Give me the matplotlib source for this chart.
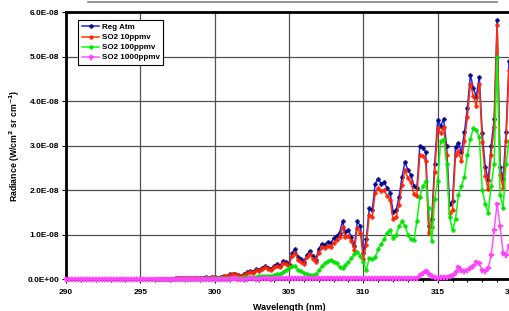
import numpy as np
import matplotlib
matplotlib.use("Agg")
import matplotlib.pyplot as plt
from matplotlib.ticker import FuncFormatter, MultipleLocator
from matplotlib.lines import Line2D

plt.rcParams['font.family'] = ['Liberation Sans', 'DejaVu Sans']

# wavelengths (nm)
wl_main = np.round(np.arange(296.0, 320.01, 0.2), 1)
wl_pink = np.round(np.arange(290.0, 320.01, 0.2), 1)

# radiance in units of 1E-8 W/cm2 sr cm-1
reg_atm = [
    0.00, 0.00, 0.00, 0.00, 0.01, 0.01, 0.01, 0.02, 0.03, 0.04,
    0.02, 0.02, 0.03, 0.02, 0.04, 0.03, 0.04, 0.05, 0.04, 0.06,
    0.05, 0.04, 0.06, 0.08, 0.07, 0.11, 0.12, 0.13, 0.10, 0.08,
    0.12, 0.16, 0.19, 0.17, 0.23, 0.21, 0.26, 0.30, 0.26, 0.24,
    0.30, 0.34, 0.31, 0.42, 0.38, 0.35, 0.58, 0.68, 0.50, 0.45,
    0.40, 0.55, 0.64, 0.52, 0.44, 0.68, 0.80, 0.78, 0.84, 0.82,
    0.92, 0.98, 1.05, 1.30, 1.06, 1.10, 0.95, 0.75, 1.30, 1.20,
    0.60, 0.90, 1.60, 1.55, 2.15, 2.26, 2.15, 2.18, 2.05, 1.95,
    1.52, 1.55, 1.85, 2.30, 2.64, 2.45, 2.35, 2.10, 2.05, 3.00,
    2.95, 2.85, 1.20, 1.35, 2.60, 3.58, 3.45, 3.60, 3.00, 1.70,
    1.75, 2.98, 3.06, 2.85, 3.30, 3.85, 4.59, 4.30, 4.10, 4.55,
    3.28, 2.53, 2.23, 3.00, 3.60, 5.83, 2.53, 2.25, 3.30, 4.90,
    4.60,
]

so2_10 = [
    0.00, 0.00, 0.00, 0.00, 0.01, 0.01, 0.01, 0.02, 0.03, 0.03,
    0.02, 0.02, 0.03, 0.02, 0.03, 0.03, 0.04, 0.04, 0.04, 0.05,
    0.05, 0.04, 0.05, 0.07, 0.07, 0.10, 0.11, 0.12, 0.09, 0.07,
    0.10, 0.14, 0.17, 0.15, 0.20, 0.19, 0.23, 0.27, 0.23, 0.21,
    0.27, 0.30, 0.27, 0.37, 0.34, 0.31, 0.52, 0.60, 0.44, 0.40,
    0.35, 0.49, 0.57, 0.46, 0.39, 0.60, 0.72, 0.70, 0.75, 0.73,
    0.82, 0.88, 0.94, 1.17, 0.95, 0.98, 0.85, 0.66, 1.16, 1.05,
    0.45, 0.78, 1.45, 1.40, 1.95, 2.05, 1.98, 2.00, 1.88, 1.78,
    1.35, 1.40, 1.68, 2.12, 2.45, 2.28, 2.18, 1.92, 1.88, 2.80,
    2.78, 2.65, 1.05, 1.18, 2.42, 3.40, 3.28, 3.42, 2.80, 1.50,
    1.55, 2.80, 2.88, 2.65, 3.10, 3.65, 4.40, 4.12, 3.90, 4.38,
    3.08, 2.32, 2.02, 2.80, 3.42, 5.72, 2.35, 2.05, 3.10, 4.70,
    4.40,
]

so2_100 = [
    0.00, 0.00, 0.00, 0.00, 0.00, 0.01, 0.01, 0.01, 0.01, 0.01,
    0.01, 0.01, 0.01, 0.01, 0.01, 0.01, 0.01, 0.02, 0.01, 0.02,
    0.02, 0.02, 0.02, 0.03, 0.03, 0.04, 0.04, 0.05, 0.04, 0.04,
    0.05, 0.06, 0.06, 0.05, 0.06, 0.07, 0.07, 0.08, 0.07, 0.08,
    0.10, 0.11, 0.13, 0.17, 0.21, 0.25, 0.30, 0.29, 0.22, 0.18,
    0.14, 0.11, 0.10, 0.09, 0.11, 0.20, 0.30, 0.36, 0.41, 0.43,
    0.40, 0.36, 0.28, 0.25, 0.32, 0.40, 0.48, 0.56, 0.62, 0.52,
    0.38, 0.20, 0.48, 0.45, 0.50, 0.68, 0.80, 0.90, 1.05, 1.10,
    0.92, 0.99, 1.20, 1.30, 1.20, 1.00, 0.90, 0.88, 1.30, 1.85,
    2.10, 2.20, 1.60, 0.85, 1.80, 2.20, 3.10, 3.15, 2.60, 1.40,
    1.10, 1.35, 1.90, 2.10, 2.30, 2.80, 3.15, 3.40, 3.35, 3.20,
    2.00, 1.70, 1.50, 2.10, 2.60, 5.00, 1.90, 1.60, 2.60, 3.10,
    2.90,
]

so2_1000 = [
    0.01, 0.01, 0.01, 0.01, 0.01, 0.01, 0.01, 0.01, 0.01, 0.01,
    0.01, 0.01, 0.01, 0.01, 0.01, 0.01, 0.01, 0.01, 0.01, 0.01,
    0.01, 0.01, 0.01, 0.01, 0.01, 0.01, 0.01, 0.01, 0.01, 0.01,
    0.01, 0.01, 0.01, 0.01, 0.01, 0.01, 0.01, 0.01, 0.01, 0.01,
    0.01, 0.01, 0.01, 0.01, 0.01, 0.01, 0.01, 0.01, 0.01, 0.01,
    0.01, 0.01, 0.01, 0.01, 0.01, 0.01, 0.02, 0.02, 0.01, 0.01,
    0.01, 0.01, 0.02, 0.02, 0.01, 0.01, 0.02, 0.02, 0.02, 0.01,
    0.02, 0.02, 0.02, 0.02, 0.02, 0.02, 0.02, 0.02, 0.02, 0.02,
    0.02, 0.02, 0.02, 0.02, 0.02, 0.02, 0.02, 0.02, 0.02, 0.02,
    0.02, 0.02, 0.02, 0.02, 0.02, 0.02, 0.02, 0.02, 0.02, 0.02,
    0.02, 0.02, 0.02, 0.02, 0.02, 0.02, 0.03, 0.03, 0.02, 0.02,
    0.02, 0.02, 0.03, 0.03, 0.02, 0.02, 0.02, 0.03, 0.04, 0.10,
    0.15, 0.19, 0.13, 0.08, 0.05, 0.04, 0.05, 0.05, 0.06, 0.08,
    0.10, 0.16, 0.27, 0.22, 0.19, 0.21, 0.25, 0.30, 0.38, 0.36,
    0.21, 0.18, 0.25, 0.55, 1.10, 1.70, 1.20, 0.60, 0.55, 0.75,
    0.70,
]

series = [
    ("Reg Atm", wl_main, reg_atm, "#2222ff", "#000080", 3.0),
    ("SO2 10ppmv", wl_main, so2_10, "#ff3300", "#ff2200", 3.0),
    ("SO2 100ppmv", wl_main, so2_100, "#00ff00", "#00e000", 3.0),
    ("SO2 1000ppmv", wl_pink, so2_1000, "#ff55ff", "#ff44ff", 3.6),
]

fig = plt.figure(figsize=(5.10, 3.11), dpi=100)
ax = fig.add_axes([66 / 510, 31.7 / 311, 446 / 510, 267 / 311])

for name, x, y, lc, mc, ms in series:
    ax.plot(x, np.array(y) * 1e-8, color=lc, lw=1.1, marker='P', ms=ms,
            mfc=mc, mec=mc, mew=0.3, label=name, zorder=3, clip_on=False)

ax.set_xlim(290, 320)
ax.set_ylim(0, 6e-8)
ax.xaxis.set_major_locator(MultipleLocator(5))
ax.xaxis.set_minor_locator(MultipleLocator(1))
ax.yaxis.set_major_locator(MultipleLocator(1e-8))
ax.yaxis.set_major_formatter(FuncFormatter(lambda v, p: f"{v:.1E}"))
ax.grid(True, which='major', color='#505050', lw=0.9)
ax.set_axisbelow(True)

ax.tick_params(axis='y', which='major', direction='out', length=3, width=0.8,
               labelsize=6, pad=2)
ax.tick_params(axis='x', which='major', direction='out', length=3, width=0.8,
               labelsize=6, pad=4)
ax.tick_params(axis='x', which='minor', direction='out', length=2, width=0.8)
for lab in ax.get_xticklabels() + ax.get_yticklabels():
    lab.set_fontweight('bold')

for s in ['left', 'bottom', 'top']:
    ax.spines[s].set_linewidth(2.0)
    ax.spines[s].set_color('black')
ax.spines['right'].set_visible(False)

ax.set_xlabel("Wavelength (nm)", fontsize=6.5, fontweight='bold', labelpad=5)
ax.set_ylabel("Radiance (W/cm$^{\\mathbf{2}}$ sr cm$^{\\mathbf{-1}}$)", fontsize=6.3,
              fontweight='bold', labelpad=4)

leg = ax.legend(loc='upper left', bbox_to_anchor=(0.027, 0.971), borderaxespad=0,
                fancybox=False, framealpha=1, edgecolor='black',
                prop={'size': 5.8, 'weight': 'bold'}, handlelength=2.2,
                handletextpad=0.3, labelspacing=0.3, borderpad=0.45)
leg.get_frame().set_linewidth(0.8)
leg.set_zorder(5)

fig.add_artist(Line2D([88 / 510, 497 / 510], [1 - 1.5 / 311] * 2,
                      color='#808080', lw=1.2))

fig.savefig("out.png", dpi=100)
